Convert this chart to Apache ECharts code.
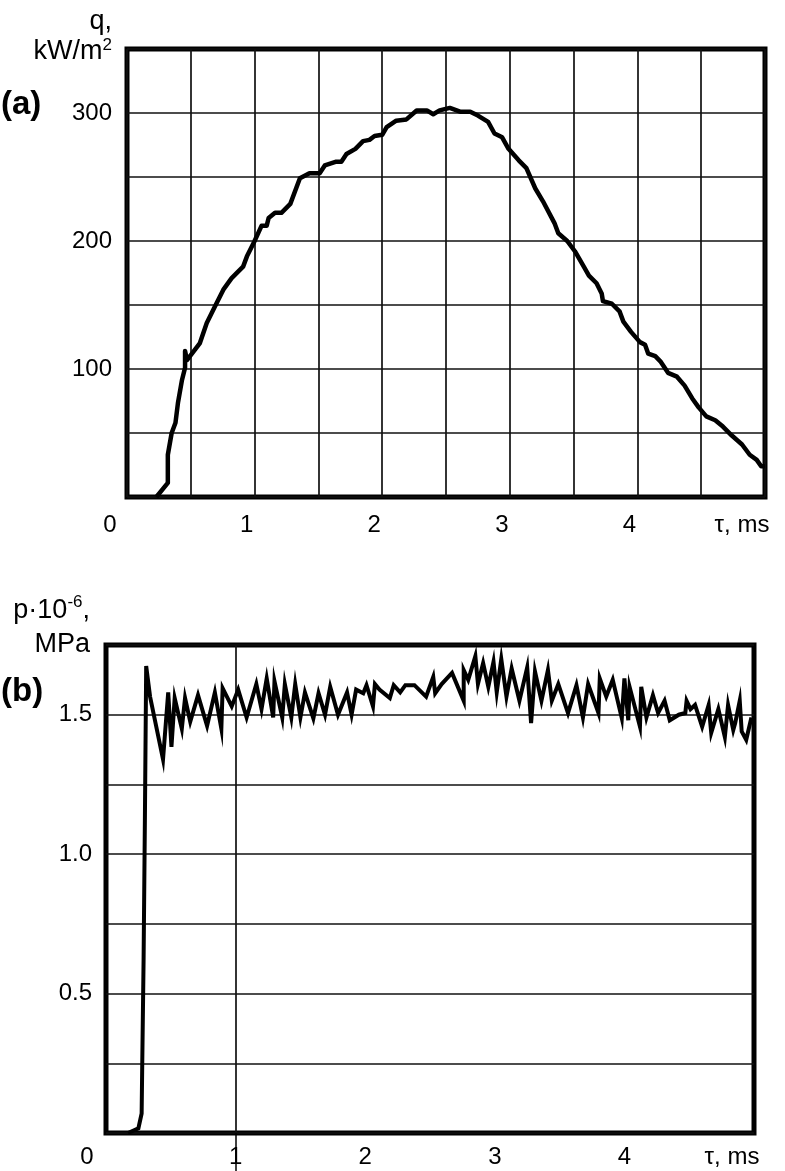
<!DOCTYPE html>
<html>
<head>
<meta charset="utf-8">
<script src="https://cdn.jsdelivr.net/npm/echarts@6/dist/echarts.min.js"></script>
<style>
  html, body { margin: 0; padding: 0; background: #fff; }
  #chart { width: 785px; height: 1171px; }
</style>
</head>
<body>
<div id="chart"></div>
<script>
// (a) heat flux q, kW/m2 vs time, ms
const timeA = [
  0.23, 0.32, 0.32, 0.35, 0.38, 0.40, 0.43, 0.455, 0.455, 0.47,
  0.57, 0.625, 0.69, 0.755, 0.82, 0.91, 0.94, 1.00, 1.055, 1.095,
  1.11, 1.16, 1.21, 1.28, 1.355, 1.43, 1.51, 1.55, 1.64, 1.68,
  1.72, 1.79, 1.85, 1.90, 1.94, 2.00, 2.035, 2.11, 2.19, 2.27,
  2.35, 2.40, 2.45, 2.53, 2.61, 2.69, 2.75, 2.83, 2.88, 2.94,
  2.99, 3.07, 3.13, 3.20, 3.26, 3.35, 3.38, 3.45, 3.51, 3.58,
  3.62, 3.68, 3.72, 3.73, 3.80, 3.86, 3.89, 3.95, 4.02, 4.06,
  4.085, 4.14, 4.18, 4.24, 4.31, 4.37, 4.43, 4.48, 4.54, 4.61,
  4.67, 4.74, 4.82, 4.88, 4.935, 4.97, 5.00
];
const heatFlux = [
  0, 11, 33, 50, 58, 74, 91, 101, 114, 107,
  120, 136, 149, 162, 171, 180, 188, 200, 212, 212,
  218, 222, 222, 229, 249, 253, 253, 259, 262, 262,
  268, 272, 278, 279, 282, 283, 289, 294, 295, 302,
  302, 299, 302, 304, 301, 301, 298, 293, 284, 281,
  272, 263, 257, 241, 231, 214, 206, 200, 192, 180,
  173, 167, 159, 153, 151, 145, 137, 129, 121, 119,
  112, 110, 106, 97, 94, 87, 77, 70, 63, 60,
  55, 48, 41, 33, 29, 24, 24
];

// (b) pressure p*10^-6, MPa vs time, ms
const timeB = [
  0.17, 0.25, 0.275, 0.28, 0.29, 0.30, 0.31, 0.34, 0.44, 0.48,
  0.505, 0.53, 0.585, 0.61, 0.65, 0.71, 0.78, 0.84, 0.89, 0.90,
  0.97, 1.02, 1.085, 1.16, 1.20, 1.24, 1.29, 1.30, 1.36, 1.38,
  1.43, 1.46, 1.50, 1.535, 1.60, 1.64, 1.69, 1.73, 1.79, 1.86,
  1.895, 1.93, 1.985, 2.01, 2.06, 2.075, 2.11, 2.19, 2.22, 2.27,
  2.31, 2.38, 2.47, 2.525, 2.54, 2.59, 2.67, 2.76, 2.76, 2.795,
  2.85, 2.87, 2.91, 2.95, 2.99, 3.015, 3.05, 3.09, 3.13, 3.19,
  3.25, 3.28, 3.31, 3.36, 3.41, 3.44, 3.49, 3.565, 3.63, 3.68,
  3.72, 3.80, 3.81, 3.86, 3.91, 3.98, 4.00, 4.03, 4.04, 4.12,
  4.13, 4.17, 4.22, 4.26, 4.31, 4.35, 4.42, 4.47, 4.48, 4.51,
  4.545, 4.60, 4.65, 4.67, 4.725, 4.775, 4.80, 4.84, 4.855, 4.89,
  4.905, 4.94, 4.98
];
const pressure = [
  0, 0.017, 0.07, 0.26, 0.62, 1.12, 1.675, 1.565, 1.34, 1.58,
  1.385, 1.56, 1.45, 1.56, 1.475, 1.57, 1.46, 1.58, 1.45, 1.595,
  1.53, 1.59, 1.49, 1.61, 1.52, 1.63, 1.49, 1.62, 1.49, 1.61,
  1.49, 1.61, 1.49, 1.58, 1.487, 1.577, 1.50, 1.60, 1.50, 1.58,
  1.50, 1.59, 1.577, 1.606, 1.53, 1.61, 1.59, 1.56, 1.606, 1.58,
  1.606, 1.606, 1.565, 1.636, 1.577, 1.61, 1.65, 1.55, 1.66, 1.625,
  1.71, 1.61, 1.685, 1.60, 1.69, 1.58, 1.70, 1.565, 1.666, 1.55,
  1.67, 1.47, 1.655, 1.55, 1.66, 1.55, 1.61, 1.506, 1.606, 1.49,
  1.61, 1.506, 1.63, 1.565, 1.625, 1.487, 1.63, 1.48, 1.60, 1.457,
  1.60, 1.49, 1.57, 1.506, 1.55, 1.48, 1.50, 1.506, 1.55, 1.52,
  1.535, 1.457, 1.535, 1.435, 1.52, 1.42, 1.535, 1.445, 1.47, 1.55,
  1.44, 1.41, 1.49
];

const xLabelsA = { 0: "{z|0}", 1: "{n|1}", 2: "{n|2}", 3: "{n|3}", 4: "{n|4}", 5: "{u|τ, ms}" };
const xLabelsB = { 0: "{z|0}", 1: "{n|1}", 2: "{n|2}", 3: "{n|3}", 4: "{n|4}", 5: "{u|τ, ms}" };
const yLabelsA = [100, 200, 300];
const yLabelsB = [0.5, 1.0, 1.5];

const FONT = "Liberation Sans";
const txt = { fontFamily: FONT, fontSize: 24, color: "#000" };
const nameTxt = { fontFamily: FONT, fontSize: 27, color: "#000" };
const grid = { show: true, borderWidth: 5, borderColor: "#000", backgroundColor: "#fff" };
const split = { show: true, lineStyle: { color: "#111", width: 1.7 } };

const chart = echarts.init(document.getElementById("chart"));
chart.setOption({
  animation: false,
  backgroundColor: "#fff",
  grid: [
    { ...grid, left: 127, top: 49, width: 638, height: 448, outerBoundsMode: "none" },
    { ...grid, left: 106, top: 645, width: 648, height: 488, outerBoundsMode: "none" },
  ],
  xAxis: [
    {
      gridIndex: 0, type: "value", min: 0, max: 5, interval: 0.5,
      axisLine: { show: false }, axisTick: { show: false }, splitLine: split,
      axisLabel: {
        ...txt, margin: 16, showMinLabel: true, showMaxLabel: true,
        formatter: (v) => xLabelsA[v] || "",
        rich: {
          z: { ...txt, padding: [0, 34, 0, 0] },
          n: { ...txt, padding: [0, 16, 0, 0] },
          u: { ...txt, padding: [0, 46, 0, 0] },
        },
      },
    },
    {
      gridIndex: 1, type: "value", min: 0, max: 5, interval: 0.5,
      axisLine: { show: false }, splitLine: split,
      axisTick: { show: true, customValues: [1], length: 38, lineStyle: { color: "#000", width: 1.5 } },
      axisLabel: {
        ...txt, margin: 12, showMinLabel: true, showMaxLabel: true,
        formatter: (v) => xLabelsB[v] || "",
        rich: {
          z: { ...txt, padding: [0, 38, 0, 0] },
          n: { ...txt },
          u: { ...txt, padding: [0, 44, 0, 0] },
        },
      },
    },
  ],
  yAxis: [
    {
      gridIndex: 0, type: "value", min: 0, max: 350, interval: 50,
      axisLine: { show: false }, axisTick: { show: false }, splitLine: split,
      axisLabel: { ...txt, margin: 15, formatter: (v) => (yLabelsA.includes(v) ? String(v) : "") },
      name: "{a|q,}\n{a|kW/m}{s|2}",
      nameLocation: "end",
      nameGap: 12,
      nameTextStyle: {
        ...nameTxt, align: "right", verticalAlign: "middle", padding: [0, 15, 0, 0],
        rich: {
          a: { ...nameTxt, lineHeight: 30 },
          s: { ...nameTxt, fontSize: 17, lineHeight: 30, verticalAlign: "top", padding: [0, 0, 12, 0] },
        },
      },
    },
    {
      gridIndex: 1, type: "value", min: 0, max: 1.75, interval: 0.25,
      axisLine: { show: false }, axisTick: { show: false }, splitLine: split,
      axisLabel: { ...txt, margin: 14, formatter: (v) => (yLabelsB.includes(v) ? v.toFixed(1) : "") },
      name: "{a|p·10}{s|-6}{a|,}\n{a|MPa}",
      nameLocation: "end",
      nameGap: 17,
      nameTextStyle: {
        ...nameTxt, align: "right", verticalAlign: "middle", padding: [0, 16, 0, 0],
        rich: {
          a: { ...nameTxt, lineHeight: 34 },
          s: { ...nameTxt, fontSize: 17, lineHeight: 34, verticalAlign: "top", padding: [0, 0, 14, 0] },
        },
      },
    },
  ],
  graphic: [
    { type: "text", left: 1, top: 88, style: { text: "(a)", font: 'bold 33px "Liberation Sans"', fill: "#000" } },
    { type: "text", left: 1, top: 675, style: { text: "(b)", font: 'bold 33px "Liberation Sans"', fill: "#000" } },
  ],
  series: [
    {
      type: "line", xAxisIndex: 0, yAxisIndex: 0, showSymbol: false,
      lineStyle: { color: "#000", width: 4.5, join: "round" },
      data: timeA.map((t, i) => [t, heatFlux[i]]),
    },
    {
      type: "line", xAxisIndex: 1, yAxisIndex: 1, showSymbol: false,
      lineStyle: { color: "#000", width: 4, join: "miter" },
      data: timeB.map((t, i) => [t, pressure[i]]),
    },
  ],
});
</script>
</body>
</html>
